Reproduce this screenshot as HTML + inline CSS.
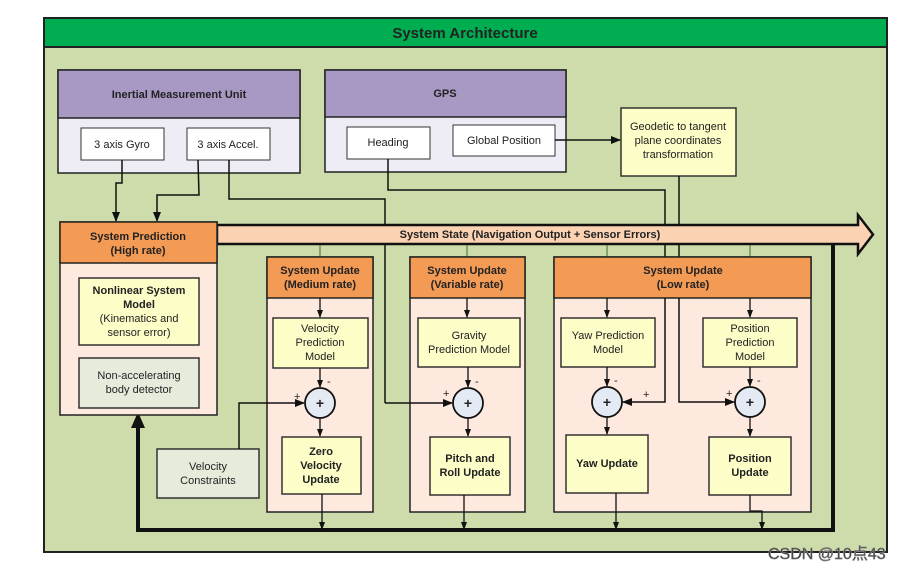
<!DOCTYPE html>
<html><head><meta charset="utf-8"><style>
html,body{margin:0;padding:0;background:#fff;}
svg{display:block;}
text{font-family:"Liberation Sans",Arial,sans-serif;fill:#222;}
.b{font-weight:bold;}
</style></head><body>
<svg width="919" height="571" viewBox="0 0 919 571" xmlns="http://www.w3.org/2000/svg">
<defs>
<marker id="a" markerWidth="10" markerHeight="10" refX="9" refY="5" orient="auto" markerUnits="userSpaceOnUse"><path d="M0,1 L10,5 L0,9 z" fill="#111"/></marker>
<marker id="s" markerWidth="8" markerHeight="8" refX="7" refY="4" orient="auto" markerUnits="userSpaceOnUse"><path d="M0,1 L8,4 L0,7 z" fill="#111"/></marker>
</defs>
<!-- frame -->
<rect x="44" y="18" width="843" height="534" fill="#cddcaa" stroke="#222" stroke-width="2"/>
<rect x="44" y="18" width="843" height="29" fill="#00ad50" stroke="#222" stroke-width="2"/>
<text x="465" y="38" font-size="15" class="b" text-anchor="middle">System Architecture</text>

<!-- IMU -->
<rect x="58" y="70" width="242" height="103" fill="#eeecf4" stroke="#222" stroke-width="1.5"/>
<rect x="58" y="70" width="242" height="48" fill="#a898c4" stroke="#222" stroke-width="1.5"/>
<text x="179" y="98" font-size="11" class="b" text-anchor="middle">Inertial Measurement Unit</text>
<rect x="81" y="128" width="83" height="32" fill="#fff" stroke="#333"/>
<text x="122" y="148" font-size="11" text-anchor="middle">3 axis Gyro</text>
<rect x="187" y="128" width="83" height="32" fill="#fff" stroke="#333"/>
<text x="228" y="148" font-size="11" text-anchor="middle">3 axis Accel.</text>

<!-- GPS -->
<rect x="325" y="70" width="241" height="102" fill="#eeecf4" stroke="#222" stroke-width="1.5"/>
<rect x="325" y="70" width="241" height="47" fill="#a898c4" stroke="#222" stroke-width="1.5"/>
<text x="445" y="97" font-size="11" class="b" text-anchor="middle">GPS</text>
<rect x="347" y="127" width="83" height="32" fill="#fff" stroke="#333"/>
<text x="388" y="146" font-size="11" text-anchor="middle">Heading</text>
<rect x="453" y="125" width="102" height="31" fill="#fff" stroke="#333"/>
<text x="504" y="144" font-size="11" text-anchor="middle">Global Position</text>

<!-- Geodetic -->
<rect x="621" y="108" width="115" height="68" fill="#fdfdc8" stroke="#333" stroke-width="1.5"/>
<text x="678" y="130" font-size="11" text-anchor="middle">Geodetic to tangent</text>
<text x="678" y="144" font-size="11" text-anchor="middle">plane coordinates</text>
<text x="678" y="158" font-size="11" text-anchor="middle">transformation</text>
<line x1="555" y1="140" x2="620" y2="140" stroke="#111" stroke-width="1.5" marker-end="url(#a)"/>

<!-- IMU connections -->
<polyline points="122,160 122,183 116,183 116,221" fill="none" stroke="#111" stroke-width="1.5" marker-end="url(#a)"/>
<polyline points="198,160 199,195 157,195 157,221" fill="none" stroke="#111" stroke-width="1.5" marker-end="url(#a)"/>
<polyline points="229,160 229,199 385,199 385,225" fill="none" stroke="#111" stroke-width="1.5"/>
<polyline points="388,159 388,190 665,190 665,225" fill="none" stroke="#111" stroke-width="1.5"/>
<polyline points="679,176 679,225" fill="none" stroke="#111" stroke-width="1.5"/>

<!-- thick feedback loop -->
<polyline points="833,244 833,530 138,530 138,420" fill="none" stroke="#111" stroke-width="4"/>
<path d="M131,428 L138,412 L145,428 z" fill="#111"/>

<!-- System state arrow -->
<path d="M217,225 L858,225 L858,215 L873,234.5 L858,254 L858,244 L217,244 z" fill="#fbd3b3" stroke="#111" stroke-width="2.5"/>
<text x="530" y="238" font-size="11" class="b" text-anchor="middle">System State (Navigation Output + Sensor Errors)</text>

<!-- thin connectors state to updates -->
<line x1="320" y1="245" x2="320" y2="257" stroke="#5a7a4a" stroke-width="1.2"/>
<line x1="467" y1="245" x2="467" y2="257" stroke="#5a7a4a" stroke-width="1.2"/>
<line x1="607" y1="245" x2="607" y2="257" stroke="#5a7a4a" stroke-width="1.2"/>
<line x1="750" y1="245" x2="750" y2="257" stroke="#5a7a4a" stroke-width="1.2"/>
<line x1="385" y1="244" x2="385" y2="403" stroke="#111" stroke-width="1.5"/>
<line x1="665" y1="244" x2="665" y2="257" stroke="#111" stroke-width="1.5"/>
<line x1="679" y1="244" x2="679" y2="257" stroke="#111" stroke-width="1.5"/>

<!-- System Prediction -->
<rect x="60" y="222" width="157" height="193" fill="#fde9dd" stroke="#222" stroke-width="1.5"/>
<rect x="60" y="222" width="157" height="41" fill="#f39a55" stroke="#222" stroke-width="1.5"/>
<text x="138" y="240" font-size="11" class="b" text-anchor="middle">System Prediction</text>
<text x="138" y="254" font-size="11" class="b" text-anchor="middle">(High rate)</text>
<rect x="79" y="278" width="120" height="67" fill="#fdfdc8" stroke="#333" stroke-width="1.5"/>
<text x="139" y="294" font-size="11" class="b" text-anchor="middle">Nonlinear System</text>
<text x="139" y="308" font-size="11" class="b" text-anchor="middle">Model</text>
<text x="139" y="322" font-size="11" text-anchor="middle">(Kinematics and</text>
<text x="139" y="336" font-size="11" text-anchor="middle">sensor error)</text>
<rect x="79" y="358" width="120" height="50" fill="#e6ecdc" stroke="#333" stroke-width="1.5"/>
<text x="139" y="379" font-size="11" text-anchor="middle">Non-accelerating</text>
<text x="139" y="393" font-size="11" text-anchor="middle">body detector</text>

<!-- Velocity constraints -->
<rect x="157" y="449" width="102" height="49" fill="#e6ecdc" stroke="#333" stroke-width="1.5"/>
<text x="208" y="470" font-size="11" text-anchor="middle">Velocity</text>
<text x="208" y="484" font-size="11" text-anchor="middle">Constraints</text>

<!-- Medium -->
<rect x="267" y="257" width="106" height="255" fill="#fde9dd" stroke="#222" stroke-width="1.5"/>
<rect x="267" y="257" width="106" height="41" fill="#f39a55" stroke="#222" stroke-width="1.5"/>
<text x="320" y="274" font-size="11" class="b" text-anchor="middle">System Update</text>
<text x="320" y="288" font-size="11" class="b" text-anchor="middle">(Medium rate)</text>
<rect x="273" y="318" width="95" height="50" fill="#fdfdc8" stroke="#333" stroke-width="1.5"/>
<text x="320" y="332" font-size="11" text-anchor="middle">Velocity</text>
<text x="320" y="346" font-size="11" text-anchor="middle">Prediction</text>
<text x="320" y="360" font-size="11" text-anchor="middle">Model</text>
<rect x="282" y="437" width="79" height="57" fill="#fdfdc8" stroke="#333" stroke-width="1.5"/>
<text x="321" y="455" font-size="11" class="b" text-anchor="middle">Zero</text>
<text x="321" y="469" font-size="11" class="b" text-anchor="middle">Velocity</text>
<text x="321" y="483" font-size="11" class="b" text-anchor="middle">Update</text>

<!-- Variable -->
<rect x="410" y="257" width="115" height="255" fill="#fde9dd" stroke="#222" stroke-width="1.5"/>
<rect x="410" y="257" width="115" height="41" fill="#f39a55" stroke="#222" stroke-width="1.5"/>
<text x="467" y="274" font-size="11" class="b" text-anchor="middle">System Update</text>
<text x="467" y="288" font-size="11" class="b" text-anchor="middle">(Variable rate)</text>
<rect x="418" y="318" width="102" height="49" fill="#fdfdc8" stroke="#333" stroke-width="1.5"/>
<text x="469" y="339" font-size="11" text-anchor="middle">Gravity</text>
<text x="469" y="353" font-size="11" text-anchor="middle">Prediction Model</text>
<rect x="430" y="437" width="80" height="58" fill="#fdfdc8" stroke="#333" stroke-width="1.5"/>
<text x="470" y="462" font-size="11" class="b" text-anchor="middle">Pitch and</text>
<text x="470" y="476" font-size="11" class="b" text-anchor="middle">Roll Update</text>

<!-- Low -->
<rect x="554" y="257" width="257" height="255" fill="#fde9dd" stroke="#222" stroke-width="1.5"/>
<rect x="554" y="257" width="257" height="41" fill="#f39a55" stroke="#222" stroke-width="1.5"/>
<text x="683" y="274" font-size="11" class="b" text-anchor="middle">System Update</text>
<text x="683" y="288" font-size="11" class="b" text-anchor="middle">(Low rate)</text>
<rect x="561" y="318" width="94" height="49" fill="#fdfdc8" stroke="#333" stroke-width="1.5"/>
<text x="608" y="339" font-size="11" text-anchor="middle">Yaw Prediction</text>
<text x="608" y="353" font-size="11" text-anchor="middle">Model</text>
<rect x="566" y="435" width="82" height="58" fill="#fdfdc8" stroke="#333" stroke-width="1.5"/>
<text x="607" y="467" font-size="11" class="b" text-anchor="middle">Yaw Update</text>
<rect x="703" y="318" width="94" height="49" fill="#fdfdc8" stroke="#333" stroke-width="1.5"/>
<text x="750" y="332" font-size="11" text-anchor="middle">Position</text>
<text x="750" y="346" font-size="11" text-anchor="middle">Prediction</text>
<text x="750" y="360" font-size="11" text-anchor="middle">Model</text>
<rect x="709" y="437" width="82" height="58" fill="#fdfdc8" stroke="#333" stroke-width="1.5"/>
<text x="750" y="462" font-size="11" class="b" text-anchor="middle">Position</text>
<text x="750" y="476" font-size="11" class="b" text-anchor="middle">Update</text>

<!-- connectors over boxes -->
<g stroke="#111" stroke-width="1.5" fill="none">
<polyline points="385,403 452,403" marker-end="url(#a)"/>
<polyline points="665,298 665,402 623,402" marker-end="url(#a)"/>
<polyline points="679,298 679,402 734,402" marker-end="url(#a)"/>
<polyline points="239,449 239,403 304,403" marker-end="url(#a)"/>
</g>

<!-- internal arrows -->
<g stroke="#111" stroke-width="1.3" fill="none">
<line x1="320" y1="298" x2="320" y2="317" marker-end="url(#s)"/>
<line x1="320" y1="368" x2="320" y2="387" marker-end="url(#s)"/>
<line x1="320" y1="418" x2="320" y2="436" marker-end="url(#s)"/>
<line x1="322" y1="494" x2="322" y2="529" marker-end="url(#s)"/>
<line x1="467" y1="298" x2="467" y2="317" marker-end="url(#s)"/>
<line x1="468" y1="367" x2="468" y2="387" marker-end="url(#s)"/>
<line x1="468" y1="418" x2="468" y2="436" marker-end="url(#s)"/>
<line x1="464" y1="495" x2="464" y2="529" marker-end="url(#s)"/>
<line x1="607" y1="298" x2="607" y2="317" marker-end="url(#s)"/>
<line x1="607" y1="367" x2="607" y2="386" marker-end="url(#s)"/>
<line x1="607" y1="417" x2="607" y2="434" marker-end="url(#s)"/>
<line x1="616" y1="493" x2="616" y2="529" marker-end="url(#s)"/>
<line x1="750" y1="298" x2="750" y2="317" marker-end="url(#s)"/>
<line x1="750" y1="367" x2="750" y2="386" marker-end="url(#s)"/>
<line x1="750" y1="417" x2="750" y2="436" marker-end="url(#s)"/>
<polyline points="750,495 750,511 762,511 762,529" marker-end="url(#s)"/>
</g>

<!-- summing junctions -->
<g fill="#e4eaf4" stroke="#111" stroke-width="1.8">
<circle cx="320" cy="403" r="15"/>
<circle cx="468" cy="403" r="15"/>
<circle cx="607" cy="402" r="15"/>
<circle cx="750" cy="402" r="15"/>
</g>
<g font-size="14" class="b" text-anchor="middle">
<text x="320" y="408" class="b">+</text>
<text x="468" y="408" class="b">+</text>
<text x="607" y="407" class="b">+</text>
<text x="750" y="407" class="b">+</text>
</g>
<g font-size="11">
<text x="327" y="385">-</text><text x="294" y="400">+</text>
<text x="475" y="385">-</text><text x="443" y="397">+</text>
<text x="614" y="384">-</text><text x="643" y="398">+</text>
<text x="757" y="384">-</text><text x="726" y="397">+</text>
</g>

<!-- watermark -->
<text x="768" y="559" font-size="16" fill="#fff" stroke="#888" stroke-width="0.7" style="font-family:'Liberation Sans','Noto Sans CJK SC',sans-serif">CSDN @10点43</text>
</svg>
</body></html>
